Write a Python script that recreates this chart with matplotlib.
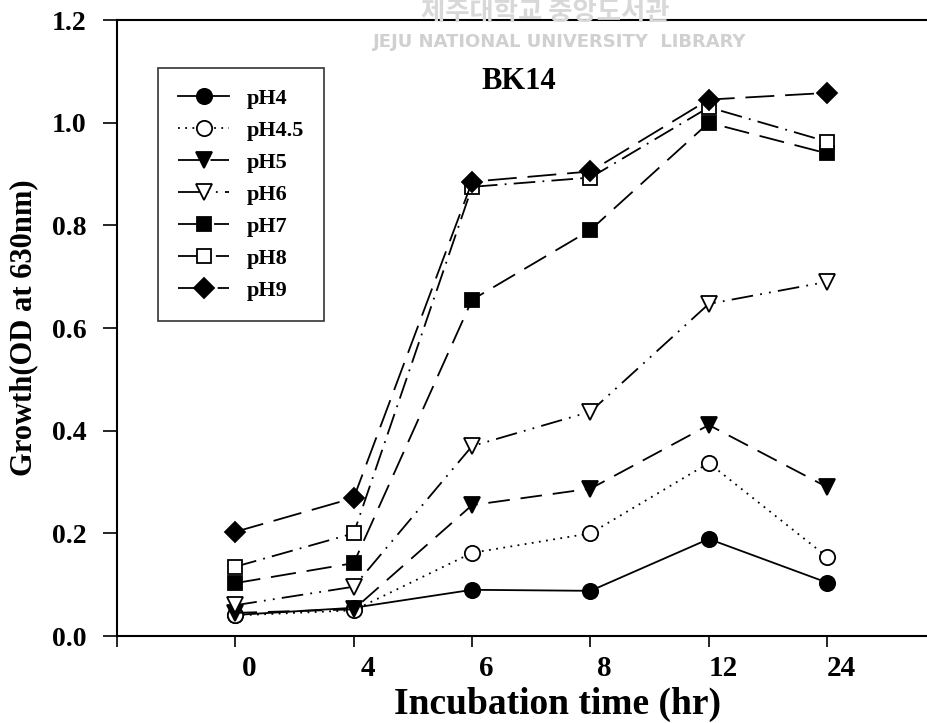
import matplotlib
matplotlib.use("Agg")
import matplotlib.pyplot as plt
import matplotlib.transforms as mtransforms

# ---- data ----
time_labels = ["0", "4", "6", "8", "12", "24"]
pH4 = [0.041, 0.055, 0.090, 0.088, 0.189, 0.104]
pH4_5 = [0.040, 0.050, 0.162, 0.200, 0.337, 0.154]
pH5 = [0.045, 0.052, 0.255, 0.287, 0.411, 0.290]
pH6 = [0.060, 0.096, 0.370, 0.437, 0.647, 0.690]
pH7 = [0.103, 0.142, 0.655, 0.791, 1.000, 0.940]
pH8 = [0.135, 0.200, 0.875, 0.893, 1.030, 0.963]
pH9 = [0.203, 0.269, 0.885, 0.905, 1.045, 1.058]
series_names = ["pH4", "pH4.5", "pH5", "pH6", "pH7", "pH8", "pH9"]
series_values = [pH4, pH4_5, pH5, pH6, pH7, pH8, pH9]
y_ticks = [0.0, 0.2, 0.4, 0.6, 0.8, 1.0, 1.2]

plt.rcParams['font.family'] = ['Liberation Serif', 'DejaVu Serif']
plt.rcParams['font.weight'] = 'bold'

fig = plt.figure(figsize=(9.28, 7.23), dpi=100)
ax = fig.add_axes([117/928, 1-636/723, 1.0 - 117/928 + 0.01, (636-20)/723])

styles = [
    dict(marker='o', mfc='black', ls='-'),
    dict(marker='o', mfc='white', ls=(0, (1, 3))),
    dict(marker='v', mfc='black', ls=(0, (12, 6))),
    dict(marker='v', mfc='white', ls=(0, (12, 4, 1, 4, 1, 4))),
    dict(marker='s', mfc='black', ls=(0, (14, 6))),
    dict(marker='s', mfc='white', ls=(0, (12, 4, 1, 4))),
    dict(marker='D', mfc='black', ls=(0, (16, 6))),
]
msizes = [11, 11, 11, 11, 10, 10, 10]

x = list(range(len(time_labels)))
for name, vals, st, ms in zip(series_names, series_values, styles, msizes):
    ax.plot(x, vals, color='black', lw=1.3, linestyle=st['ls'], marker=st['marker'],
            markersize=ms, markerfacecolor=st['mfc'], markeredgecolor='black',
            markeredgewidth=1.3, label=name, clip_on=False)

ax.set_xlim(-1, 5.93)
ax.set_ylim(0, 1.2)
ax.set_xticks([-1] + x)
ax.set_xticklabels([""] + time_labels)
ax.set_yticks(y_ticks)
ax.set_yticklabels([f"{v:.1f}" for v in y_ticks])
ax.tick_params(axis='x', direction='out', length=8, width=1.2, labelsize=21, pad=6)
ax.tick_params(axis='y', direction='out', length=10, width=1.2, labelsize=20, pad=12)
offset = mtransforms.ScaledTranslation(14/100, 0, fig.dpi_scale_trans)
for lab in ax.get_xticklabels():
    lab.set_transform(lab.get_transform() + offset)
    lab.set_fontweight('bold')
for lab in ax.get_yticklabels():
    lab.set_fontweight('bold')

for s in ['left', 'bottom', 'top']:
    ax.spines[s].set_linewidth(1.5)
ax.spines['right'].set_visible(False)

ax.set_xlabel("Incubation time (hr)", fontsize=27, fontweight='bold')
ax.xaxis.set_label_coords((558-117)/(1.01*928 - 117), -0.083)
ax.set_ylabel("Growth(OD at 630nm)", fontsize=22, fontweight='bold', labelpad=10)

ax.text(0.49, 0.90, "BK14", transform=ax.transAxes, fontsize=22, fontweight='bold',
        ha='center', va='center')

leg = ax.legend(loc='upper left', bbox_to_anchor=(0.05, 0.922), borderaxespad=0,
                fontsize=16, handlelength=2.3, labelspacing=0.52, frameon=True,
                fancybox=False, edgecolor='black', borderpad=0.9, handletextpad=0.8)
leg.get_frame().set_linewidth(1.2)
for t in leg.get_texts():
    t.set_fontweight('bold')

# faint watermark
fig.text(545/928, 1-12/723, "제주대학교 중앙도서관", fontsize=19, color='#d8d8d8',
         ha='center', va='center', family=['Noto Sans CJK KR', 'DejaVu Sans'], zorder=0)
fig.text(560/928, 1-42/723, "JEJU NATIONAL UNIVERSITY  LIBRARY", fontsize=13, color='#d0d0d0',
         ha='center', va='center', family=['DejaVu Sans'], zorder=0)

fig.savefig("out.png", dpi=100)
